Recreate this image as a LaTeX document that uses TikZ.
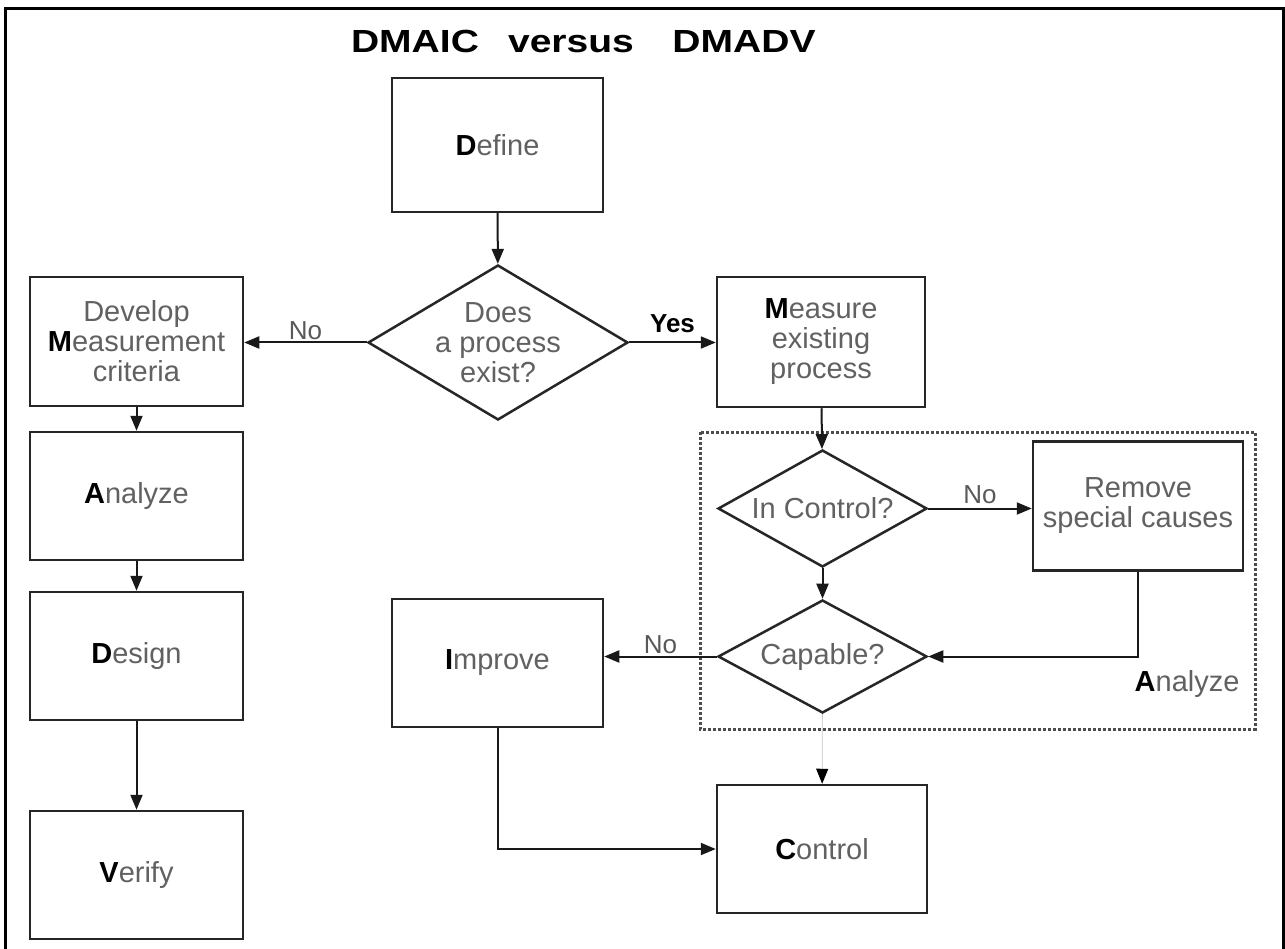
\documentclass[tikz,border=0pt]{standalone}
\usepackage{fontspec}
\setmainfont{Liberation Sans}
\newfontfamily\titlefont{Liberation Sans}[FakeStretch=1.22]
\usetikzlibrary{arrows.meta,shapes.geometric}

% bold black initial letter, rest of the word in grey
\newcommand\initial[1]{{\bfseries\color{black}#1}}

\tikzset{
  body/.style={font=\fontsize{29}{30}\selectfont, text=black!62, align=center},
  stepbox/.style={body, draw=black!85, line width=2.5pt, rectangle, inner sep=0pt},
  decision/.style={draw=black!85, line width=2.5pt, diamond, inner sep=0pt},
  flow/.style={draw=black!90, line width=2pt, -{Triangle[length=15pt,width=12pt]}},
  faintflow/.style={draw=black!22, line width=0.8pt, -{Triangle[length=15pt,width=12pt,color=black]}},
  edgelabel/.style={font=\fontsize{26}{28}\selectfont, text=black!65},
  yeslabel/.style={font=\fontsize{26}{28}\selectfont\bfseries, text=black},
  heading/.style={font=\titlefont\fontsize{32}{34}\selectfont\bfseries, text=black, anchor=base},
  group/.style={draw=black!70, line width=3pt, dash pattern=on 3pt off 2pt}
}

\begin{document}
\begin{tikzpicture}[x=1pt,y=-1pt]
  \useasboundingbox (0,0) rectangle (1285,949);
  \fill[white] (0,0) rectangle (1285,949);

  % frame, open at the bottom
  \draw[line width=3pt, black] (5,949) -- (5,9) -- (1283,9) -- (1283,949);

  % heading
  \node[heading] (hA) at (415,53) {DMAIC};
  \node[heading] (hB) at (571,53) {versus};
  \node[heading] (hC) at (744,53) {DMADV};

  % Analyze group frame
  \draw[group] (700,432) rectangle (1255,729);
  \node[body, anchor=east] (grouplabel) at (1243,684) {\initial{A}nalyze};

  % centre column
  \node[stepbox, minimum width=211pt, minimum height=134pt] (define) at (497.5,145) {\initial{D}efine};
  \node[decision, minimum width=260pt, minimum height=155pt] (exist) at (498,342.5) {};
  \node[body] (existtext) at (exist.center) {Does\\a process\\exist?};

  % DMADV column
  \node[stepbox, minimum width=213pt, minimum height=129pt] (develop) at (136.5,341.5)
       {Develop\\\initial{M}easurement\\criteria};
  \node[stepbox, minimum width=213pt, minimum height=128pt] (analyzeL) at (136.5,496) {\initial{A}nalyze};
  \node[stepbox, minimum width=213pt, minimum height=128pt] (design) at (136.5,656) {\initial{D}esign};
  \node[stepbox, minimum width=213pt, minimum height=128pt] (verify) at (136.5,875) {\initial{V}erify};

  % DMAIC branch
  \node[stepbox, minimum width=208pt, minimum height=130pt] (measure) at (821,342)
       {\initial{M}easure\\existing\\process};
  \node[decision, minimum width=209pt, minimum height=117pt] (inctrl) at (822.5,508.5) {};
  \node[body] (inctrltext) at (inctrl.center) {In Control?};
  \node[stepbox, minimum width=210pt, minimum height=129pt] (remove) at (1138,506)
       {Remove\\special causes};
  \node[decision, minimum width=209pt, minimum height=113pt] (capable) at (822.5,656.5) {};
  \node[body] (capabletext) at (capable.center) {Capable?};
  \node[stepbox, minimum width=211pt, minimum height=128pt] (improve) at (497.5,663) {\initial{I}mprove};
  \node[stepbox, minimum width=210pt, minimum height=128pt] (control) at (822,849) {\initial{C}ontrol};

  % connectors
  \draw[flow] (define) -- (exist);
  \draw[flow] (exist.west) -- (exist.west -| develop.east) node[edgelabel, midway, above=-2pt] {No};
  \draw[flow] (exist.east) -- (exist.east -| measure.west) node[yeslabel, midway, above=5pt] {Yes};

  \draw[flow] (develop) -- (analyzeL);
  \draw[flow] (analyzeL) -- (design);
  \draw[flow] (design) -- (verify);

  \draw[flow] (measure) -- (inctrl);
  \draw[flow] (inctrl.east) -- (inctrl.east -| remove.west) node[edgelabel, midway, above=0pt] {No};
  \draw[flow] (inctrl) -- (capable);
  \draw[flow] (remove.south) |- (capable.east);
  \draw[flow] (capable.west) -- (capable.west -| improve.east) node[edgelabel, midway, above=-2pt] {No};
  \draw[faintflow] (capable) -- (control);
  \draw[flow] (improve.south) |- (control.west);
\end{tikzpicture}
\end{document}
